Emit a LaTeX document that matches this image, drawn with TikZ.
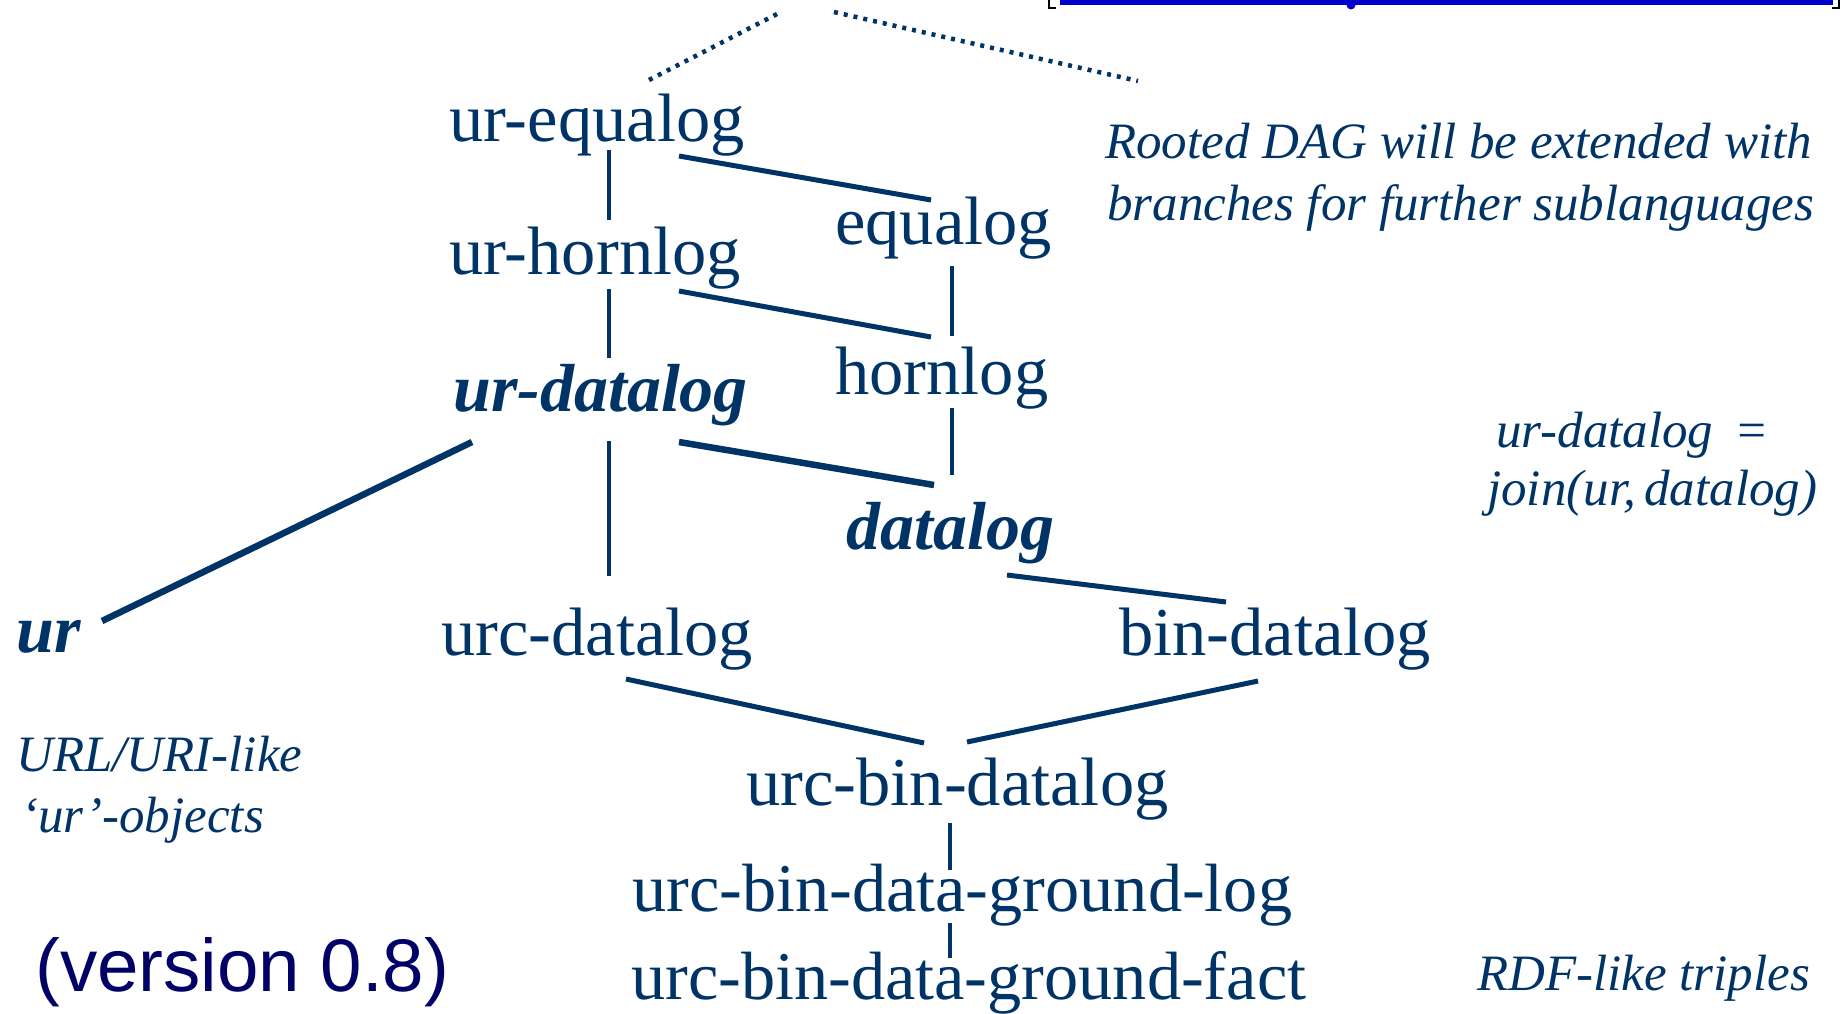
\documentclass[tikz,border=0pt]{standalone}
\usepackage{fontspec}
\setmainfont{Liberation Serif}
\newfontfamily\versionfont{Liberation Sans}
\usetikzlibrary{calc}
\definecolor{inkblue}{RGB}{0,51,102}
\definecolor{versionblue}{RGB}{0,0,102}
\definecolor{linkblue}{RGB}{0,0,204}
\tikzset{
  lang/.style={anchor=base west, inner sep=0pt, text=inkblue,
    font=\fontsize{68.5}{80}\selectfont},
  langbi/.style={lang, font=\fontsize{68}{80}\selectfont\bfseries\itshape},
  langsm/.style={lang, font=\fontsize{68.3}{80}\selectfont},
  note/.style={anchor=base west, inner sep=0pt, text=inkblue,
    font=\fontsize{51}{60}\selectfont\itshape},
  version/.style={anchor=base west, inner sep=0pt, text=versionblue,
    font=\fontsize{74.5}{88}\versionfont},
  vlink/.style={draw=inkblue, line width=3.8pt},
  dlink/.style={draw=inkblue, line width=5pt},
  dlinkthick/.style={draw=inkblue, line width=6.5pt},
  hint/.style={draw=inkblue, line width=4.5pt, dash pattern=on 4pt off 6pt},
}
\begin{document}
\begin{tikzpicture}[x=1pt, y=-1pt]
\useasboundingbox (0,0) rectangle (1843,1013);

% link underline at the top edge
\fill[linkblue] (1060,0) rectangle (1833,4.5);
\fill[linkblue] (1351,5) circle (4.5);
\draw[black, line width=2.5pt] (1056,8) -- (1049,8) -- (1049,0);
\draw[black, line width=2.5pt] (1832,8) -- (1839,8) -- (1839,0);

% sublanguage nodes
\node[lang]   (ueq) at (449,141) {ur-equalog};
\node[lang]   (uhl) at (449,274) {ur-hornlog};
\node[langbi] (udl) at (453,411) {ur-datalog};
\node[lang]   (eq)  at (835,244) {equalog};
\node[lang]   (hl)  at (835,394) {hornlog};
\node[langbi] (dl)  at (846,549) {datalog};
\node[langbi] (ur)  at (16,652)  {ur};
\node[lang]   (ucd) at (441,655) {urc-datalog};
\node[lang]   (bd)  at (1119,655) {bin-datalog};
\node[lang]   (ubd) at (746,805) {urc-bin-datalog};
\node[langsm] (ugl) at (632,911) {urc-bin-data-ground-log};
\node[langsm] (ugf) at (631,999) {urc-bin-data-ground-fact};

% annotations
\node[note] (n1) at (1105,158) {Rooted DAG will be extended with};
\node[note] (n2) at (1107,220) {branches for further sublanguages};
\node[note] (n3) at (1496,447) {ur-datalog\, =};
\node[note] (n4) at (1487,505) {join(ur,\,datalog)};
\node[note] (n5) at (16,771)   {URL/URI-like};
\node[note] (n6) at (21,832)   {‘ur’-objects};
\node[note] (n7) at (1477,990) {RDF-like triples};
\node[version] (ver) at (35,991) {(version 0.8)};

% further branches above the root
\coordinate (topl) at (779,13);
\coordinate (topr) at (834,12);
\coordinate (lowl) at (649,80);
\coordinate (lowr) at (1138,81);
\draw[hint] (lowl) -- (topl);
\draw[hint] (topr) -- (lowr);

% vertical edges
\draw[vlink] ($(ueq.base west)+(160,9)$)  -- ($(uhl.base west)+(160,-54)$);
\draw[vlink] ($(uhl.base west)+(160,15)$) -- ($(udl.base west)+(156,-53)$);
\draw[vlink] ($(udl.base west)+(156,30)$) -- ($(ucd.base west)+(168,-79)$);
\draw[vlink] ($(eq.base west)+(117,22)$)  -- ($(hl.base west)+(117,-58)$);
\draw[vlink] ($(hl.base west)+(117,14)$)  -- ($(dl.base west)+(106,-74)$);
\draw[vlink] ($(ubd.base west)+(204,18)$) -- ($(ugl.base west)+(318,-41)$);
\draw[vlink] ($(ugl.base west)+(318,12)$) -- ($(ugf.base west)+(319,-41)$);

% diagonal edges
\draw[dlink] ($(ueq.base west)+(230,15)$) -- ($(eq.base west)+(96,-44)$);
\draw[dlink] ($(uhl.base west)+(230,17)$) -- ($(hl.base west)+(96,-57)$);
\draw[dlinkthick] ($(udl.base west)+(226,31)$) -- ($(dl.base west)+(88,-64)$);
\draw[dlinkthick] ($(udl.base west)+(19,31)$) -- ($(ur.base west)+(86,-31)$);
\draw[dlink] ($(dl.base west)+(161,26)$)  -- ($(bd.base west)+(107,-53)$);
\draw[dlink] ($(ucd.base west)+(185,24)$) -- ($(ubd.base west)+(178,-62)$);
\draw[dlink] ($(bd.base west)+(139,26)$)  -- ($(ubd.base west)+(221,-63)$);
\end{tikzpicture}
\end{document}
